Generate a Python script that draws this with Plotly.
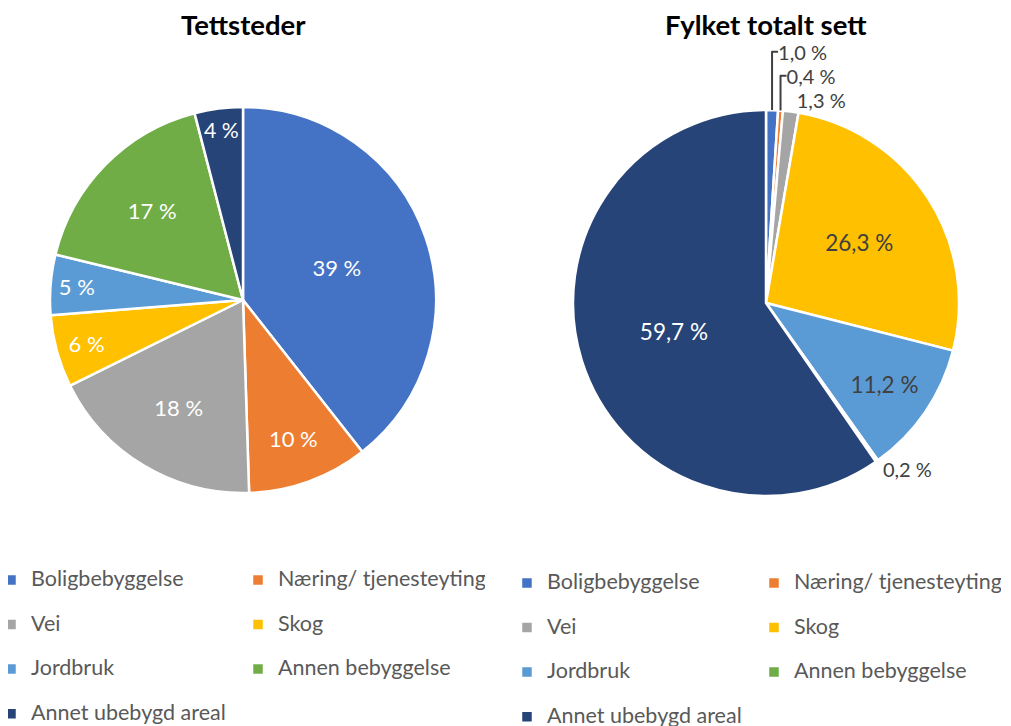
import plotly.graph_objects as go

categories = ["Boligbebyggelse", "Næring/ tjenesteyting", "Vei", "Skog",
              "Jordbruk", "Annen bebyggelse", "Annet ubebygd areal"]
tettsteder = [39, 10, 18, 6, 5, 17, 4]
fylket = [1.0, 0.4, 1.3, 26.3, 11.2, 0.2, 59.7]
titles = ["Tettsteder", "Fylket totalt sett"]

colors = ['#4472C4', '#ED7D31', '#A5A5A5', '#FFC000', '#5B9BD5', '#70AD47', '#264478']

W, H = 1011, 726
ML, MR = 0, 19
PW = W - ML - MR
OFF = 8  # page body margin offset


def dom_x(cx, r):
    cx -= OFF
    return [(cx - r - ML) / PW, (cx + r - ML) / PW]


def dom_y(cy, r):
    cy -= OFF
    return [1 - (cy + r) / H, 1 - (cy - r) / H]


legend_labels = [f"<span style='font-size:21.5px'>{c}</span><br> " for c in categories]

left_text = [f"{v:.0f} %" for v in tettsteder]
right_text = [f"{v:.1f}".replace(".", ",") + " %" for v in fylket]
right_pos = ["inside" if v >= 5 else "outside" for v in fylket]
right_inside_col = ["#FFFFFF" if v > 50 else "#404040" for v in fylket]

fig = go.Figure()
fig.add_trace(go.Pie(
    labels=legend_labels, values=tettsteder, text=left_text, textinfo="text",
    sort=False, direction="clockwise", rotation=0,
    marker=dict(colors=colors, line=dict(color="white", width=2.5)),
    textposition="inside", insidetextorientation="horizontal",
    insidetextfont=dict(family="Lato", size=22, color="white"),
    domain=dict(x=dom_x(243, 193), y=dom_y(300, 193)),
    legend="legend", legendgroup="tett", hoverinfo="label+percent",
))
fig.add_trace(go.Pie(
    labels=legend_labels, values=fylket, text=right_text, textinfo="text",
    sort=False, direction="clockwise", rotation=0,
    marker=dict(colors=colors, line=dict(color="white", width=2.5)),
    textposition=right_pos, insidetextorientation="horizontal",
    insidetextfont=dict(family="Lato", size=22.5, color=right_inside_col),
    outsidetextfont=dict(family="Lato", size=20, color="#404040"),
    domain=dict(x=dom_x(766, 193), y=dom_y(303, 193)),
    legend="legend2", legendgroup="fylke", hoverinfo="label+percent",
))

for t, cx in zip(titles, [243, 766]):
    fig.add_annotation(text=f"<b>{t}</b>", x=(cx - OFF - ML) / PW, y=1 - (26 - OFF - 2) / H,
                       xref="paper", yref="paper", xanchor="center", yanchor="middle",
                       showarrow=False, font=dict(family="Lato", size=27.5, color="#000000"))

leg_common = dict(orientation="h", entrywidth=202, entrywidthmode="pixels",
                  font=dict(family="Lato", size=16, color="#595959"),
                  bgcolor="rgba(0,0,0,0)", valign="top", yanchor="top",
                  traceorder="normal")

fig.update_layout(
    width=W, height=H,
    margin=dict(l=ML, r=MR, t=0, b=0, autoexpand=False),
    paper_bgcolor="white", plot_bgcolor="white",
    font=dict(family="Lato"),
    legend=dict(x=-17 / PW, xanchor="left", y=1 - 555 / H, **leg_common),
    legend2=dict(x=1.001, xanchor="right", y=1 - 558 / H, **leg_common),
)

fig.write_html("out.html")
